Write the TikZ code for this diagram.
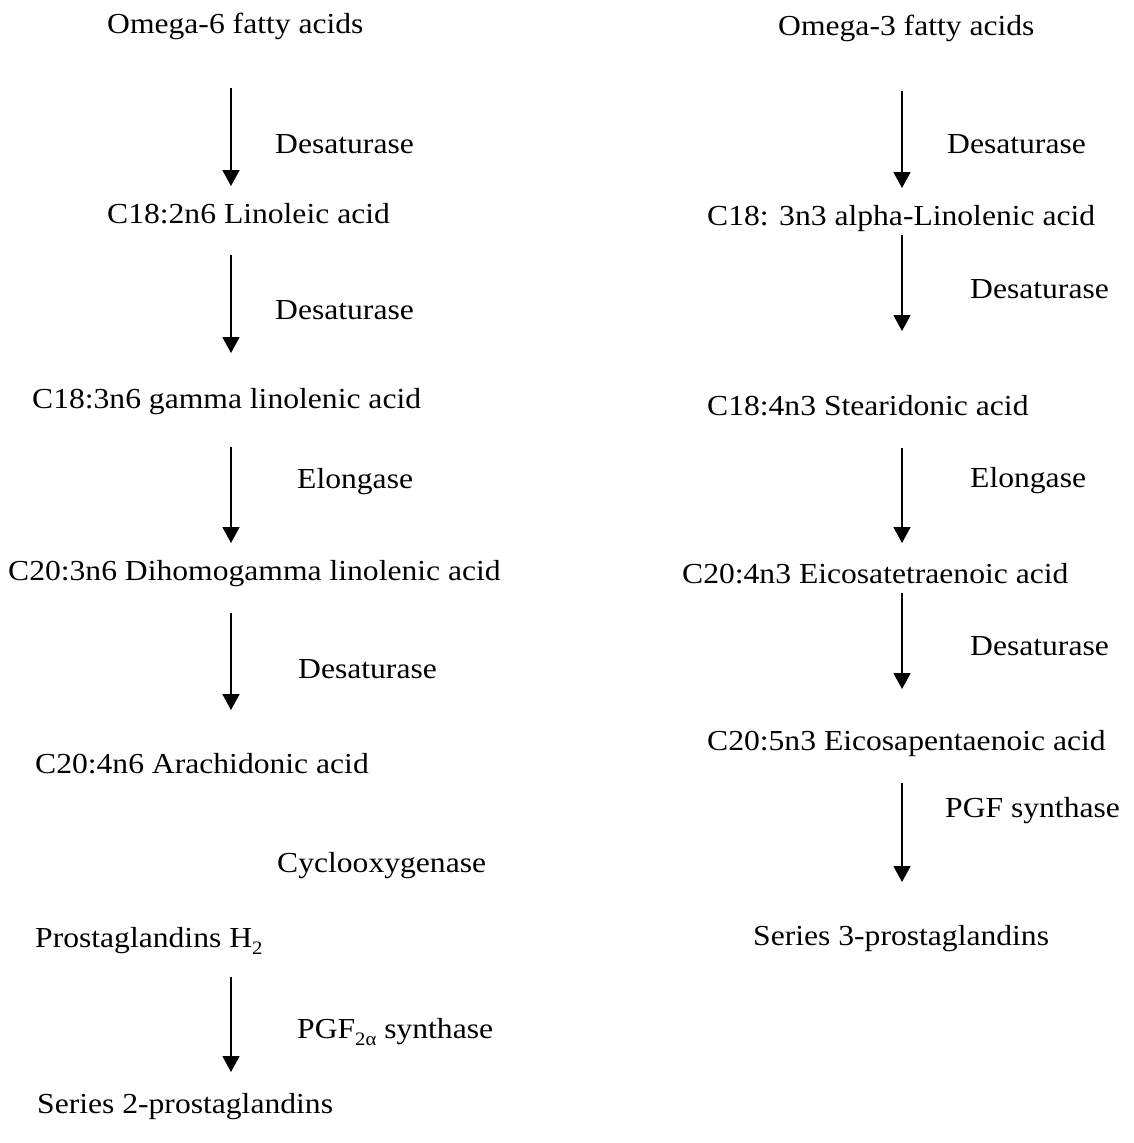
\documentclass[tikz,border=0pt]{standalone}
\usepackage{fontspec}
\setmainfont{Liberation Serif}[FakeStretch=1.09]
\usetikzlibrary{arrows.meta}
\newcommand{\subtxt}[1]{\raisebox{-0.25em}{\fontsize{19}{19}\selectfont #1}}
\begin{document}
\begin{tikzpicture}[x=1pt,y=-1pt,
  lbl/.style={anchor=base west,inner sep=0pt,font=\fontsize{29}{33}\selectfont},
  conv/.style={line width=1.8pt,-{Triangle[width=17pt,length=16pt]}}]
\useasboundingbox (0,0) rectangle (1133,1143);
% left column
\node[lbl] (o6) at (107,33) {Omega-6 fatty acids};
\node[lbl] (l1e) at (275,153) {Desaturase};
\node[lbl] (la) at (107,223) {C18:2n6 Linoleic acid};
\node[lbl] (l2e) at (275,319) {Desaturase};
\node[lbl] (gla) at (32,408) {C18:3n6 gamma linolenic acid};
\node[lbl] (l3e) at (297,488) {Elongase};
\node[lbl] (dgla) at (8,580) {C20:3n6 Dihomogamma linolenic acid};
\node[lbl] (l4e) at (298,678) {Desaturase};
\node[lbl] (aa) at (35,773) {C20:4n6 Arachidonic acid};
\node[lbl] (cox) at (277,872) {Cyclooxygenase};
\node[lbl] (pgh) at (35,947) {Prostaglandins H\subtxt{2}};
\node[lbl] (l5e) at (297,1038) {PGF\subtxt{2α} synthase};
\node[lbl] (s2) at (37,1113) {Series 2-prostaglandins};
% right column
\node[lbl] (o3) at (778,35) {Omega-3 fatty acids};
\node[lbl] (r1e) at (947,153) {Desaturase};
\node[lbl] (ala) at (707,225) {C18: 3n3 alpha-Linolenic acid};
\node[lbl] (r2e) at (970,298) {Desaturase};
\node[lbl] (sda) at (707,415) {C18:4n3 Stearidonic acid};
\node[lbl] (r3e) at (970,487) {Elongase};
\node[lbl] (eta) at (682,583) {C20:4n3 Eicosatetraenoic acid};
\node[lbl] (r4e) at (970,655) {Desaturase};
\node[lbl] (epa) at (707,750) {C20:5n3 Eicosapentaenoic acid};
\node[lbl] (r5e) at (945,817) {PGF synthase};
\node[lbl] (s3) at (753,945) {Series 3-prostaglandins};
% arrow end points
\coordinate (la1) at (231,88);   \coordinate (lb1) at (231,186);
\coordinate (la2) at (231,255);  \coordinate (lb2) at (231,353);
\coordinate (la3) at (231,447);  \coordinate (lb3) at (231,543);
\coordinate (la4) at (231,613);  \coordinate (lb4) at (231,710);
\coordinate (la5) at (231,977);  \coordinate (lb5) at (231,1072);
\coordinate (ra1) at (902,91);   \coordinate (rb1) at (902,188);
\coordinate (ra2) at (902,235);  \coordinate (rb2) at (902,331);
\coordinate (ra3) at (902,448);  \coordinate (rb3) at (902,543);
\coordinate (ra4) at (902,593);  \coordinate (rb4) at (902,689);
\coordinate (ra5) at (902,783);  \coordinate (rb5) at (902,882);
\foreach \i in {1,...,5}{
  \draw[conv] (la\i) -- (lb\i);
  \draw[conv] (ra\i) -- (rb\i);
}
\end{tikzpicture}
\end{document}
